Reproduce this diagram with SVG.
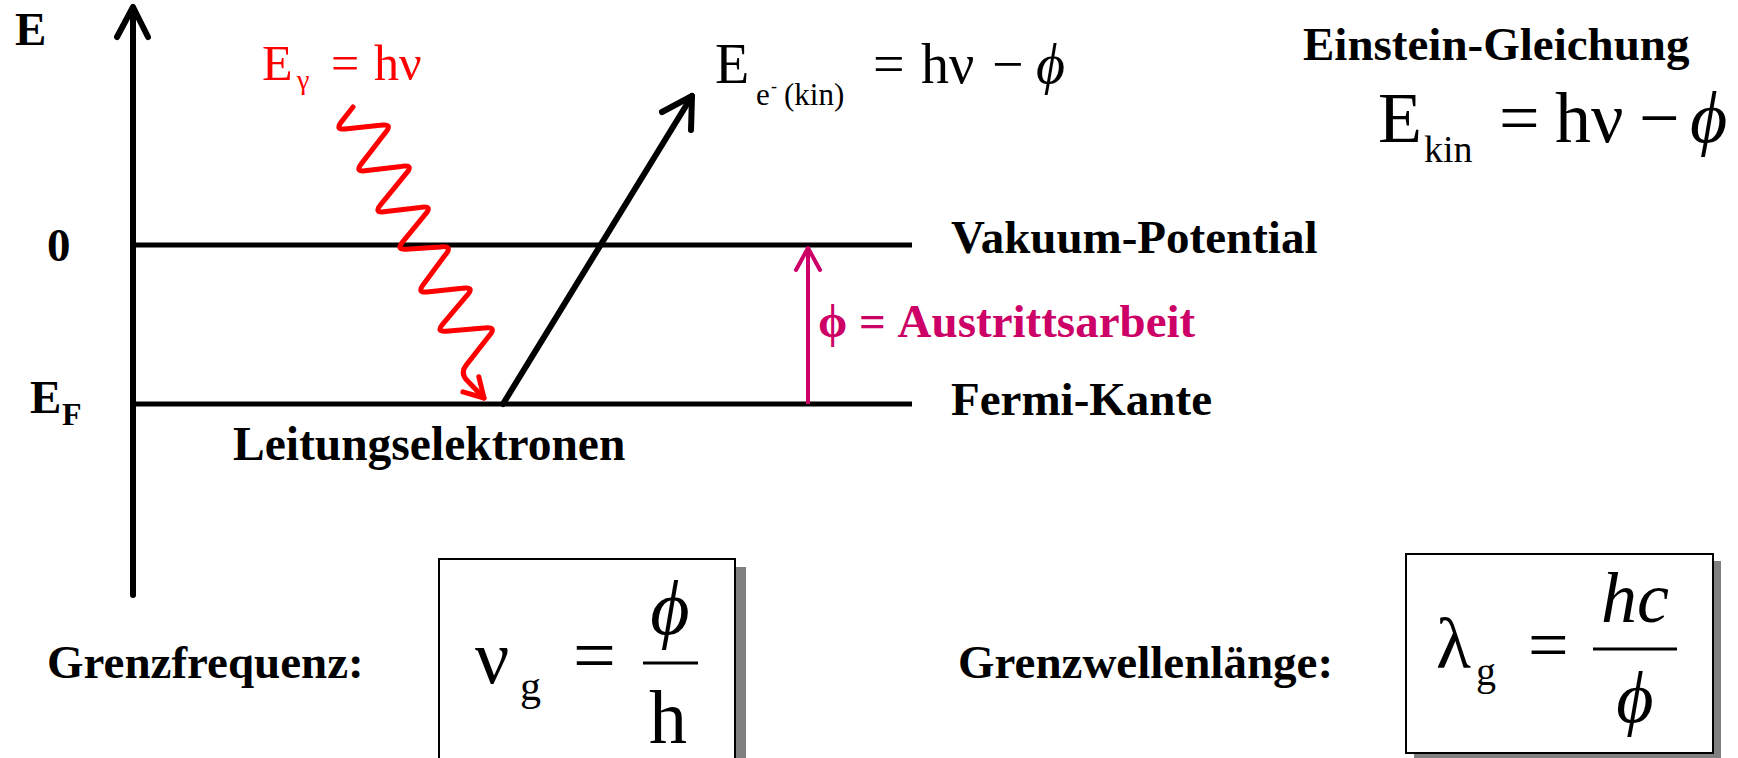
<svg xmlns="http://www.w3.org/2000/svg" width="1738" height="758" viewBox="0 0 1738 758">
<style>
.b{font-family:"Liberation Serif","Times New Roman",serif;font-weight:bold;font-size:47px;fill:#000}
.m{font-family:"Liberation Serif","Times New Roman",serif;fill:#000}
.i{font-style:italic}
.ln{stroke:#000;stroke-width:6;fill:none;stroke-linecap:round;stroke-linejoin:round}
.lv{stroke:#000;stroke-width:5;fill:none}
</style>
<rect width="1738" height="758" fill="#fff"/>
<g id="axis">
<line class="ln" x1="133" y1="595" x2="133" y2="8"/>
<polyline class="ln" points="117,37 133,7 148,37"/>
<text class="b" x="15" y="45">E</text>
</g>
<g id="vakuum-level">
<line class="lv" x1="133" y1="245" x2="912" y2="245"/>
<text class="b" x="47" y="261">0</text>
<text class="b" x="951" y="253">Vakuum-Potential</text>
</g>
<g id="fermi-level">
<line class="lv" x1="133" y1="404" x2="912" y2="404"/>
<text class="b" x="30" y="413">E</text>
<text class="b" x="62" y="425" style="font-size:32px">F</text>
<text class="b" x="951" y="415">Fermi-Kante</text>
<text class="b" x="233" y="460" style="font-size:47.5px">Leitungselektronen</text>
</g>
<g id="photon-label">
<text class="m" x="262" y="80" style="font-size:50px;fill:#f00">E</text>
<text class="m" x="297" y="89" style="font-size:28px;fill:#f00">γ</text>
<text class="m" x="331" y="80" style="font-size:50px;fill:#f00">=</text>
<text class="m" x="374" y="80" style="font-size:50px;fill:#f00">hν</text>
</g>
<g id="electron-label">
<text class="m" x="715" y="83" style="font-size:56px">E</text>
<text class="m" x="756" y="105" style="font-size:31px">e</text>
<text class="m" x="771" y="92" style="font-size:18px">-</text>
<text class="m" x="784" y="105" style="font-size:31px">(kin)</text>
<text class="m" x="873" y="83" style="font-size:56px">=</text>
<text class="m" x="921" y="83" style="font-size:56px">hν</text>
<text class="m" x="992" y="83" style="font-size:56px">−</text>
<text class="m i" x="1036" y="83" style="font-size:56px">ϕ</text>
</g>
<g id="work-function-label">
<text class="b" x="818" y="337" style="fill:#CC0066">ϕ = Austrittsarbeit</text>
</g>
<g id="einstein">
<text class="b" x="1303" y="60">Einstein-Gleichung</text>
<text class="m" x="1378" y="142" style="font-size:72px">E</text>
<text class="m" x="1424" y="162" style="font-size:38px">kin</text>
<text class="m" x="1499" y="142" style="font-size:72px">=</text>
<text class="m" x="1555" y="142" style="font-size:72px">hν</text>
<text class="m" x="1639" y="142" style="font-size:72px">−</text>
<text class="m i" x="1690" y="142" style="font-size:72px">ϕ</text>
</g>
<g id="grenzfrequenz">
<text class="b" x="47" y="678">Grenzfrequenz:</text>
<rect x="450" y="567" width="296" height="220" fill="#808080"/>
<rect x="439" y="559" width="296" height="220" fill="#fff" stroke="#000" stroke-width="2"/>
<text class="m" x="475" y="683" style="font-size:76px">ν</text>
<text class="m" x="520" y="700" style="font-size:42px">g</text>
<text class="m" x="573" y="681" style="font-size:76px">=</text>
<line x1="643" y1="663" x2="698" y2="663" stroke="#000" stroke-width="3"/>
<text class="m i" x="670" y="634" style="font-size:76px" text-anchor="middle">ϕ</text>
<text class="m" x="668" y="743" style="font-size:76px" text-anchor="middle">h</text>
</g>
<g id="grenzwellenlaenge">
<text class="b" x="958" y="678">Grenzwellenlänge:</text>
<rect x="1414" y="561" width="307" height="199" fill="#808080"/>
<rect x="1406" y="554" width="307" height="199" fill="#fff" stroke="#000" stroke-width="2"/>
<text class="m" x="1436" y="668" style="font-size:72px">λ</text>
<text class="m" x="1476" y="685" style="font-size:40px">g</text>
<text class="m" x="1528" y="669" style="font-size:72px">=</text>
<line x1="1593" y1="649" x2="1677" y2="649" stroke="#000" stroke-width="3"/>
<text class="m i" x="1635" y="622" style="font-size:72px" text-anchor="middle">hc</text>
<text class="m i" x="1635" y="722" style="font-size:72px" text-anchor="middle">ϕ</text>
</g>
<g id="connectors">
<path d="M353,107 L341.2,122.1 Q335,130 345,129 L380.1,125.3 Q394,123 384.7,133.5 L361.1,164.1 Q355,172 364.9,170.8 L401.1,166.4 Q415,164 405.4,174.3 L380.3,205.2 Q374,213 383.9,211.8 L420.1,207.4 Q434,205 424.4,215.3 L402.3,242.3 Q396,250 406,249.3 L440,246.9 Q454,245 444.8,255.6 L423,285 Q417,293 427,292 L462.1,288.3 Q476,286 466.3,296.2 L442.5,324.4 Q436,332 445.9,331.2 L484,328 Q498,326 488.6,336.5 L466.2,365.1 Q460,373 466.9,380.2 L484,398" fill="none" stroke="#f00" stroke-width="5" stroke-linecap="round" stroke-linejoin="round"/>
<polyline points="478.8,376.7 484,398 462.9,391.9" fill="none" stroke="#f00" stroke-width="5" stroke-linecap="round" stroke-linejoin="round"/>
<line class="ln" x1="503" y1="404" x2="692" y2="96"/>
<polyline class="ln" points="662,112 692,96 691,130"/>
<line x1="808" y1="404" x2="808" y2="250" stroke="#CC0066" stroke-width="4"/>
<polyline points="796,270 808,248 820,270" fill="none" stroke="#CC0066" stroke-width="4" stroke-linecap="round" stroke-linejoin="round"/>
</g>
</svg>
